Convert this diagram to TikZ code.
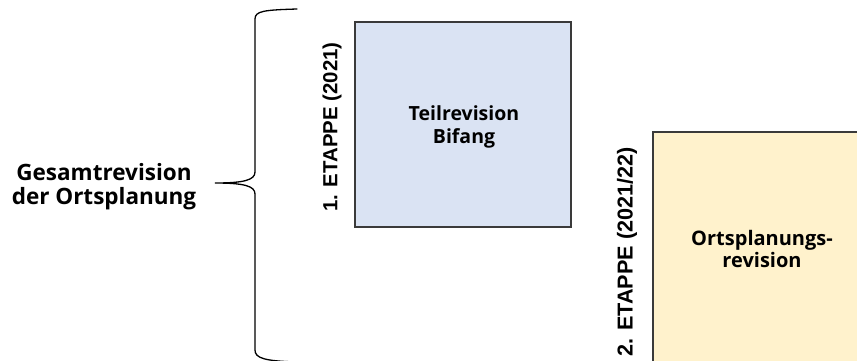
\documentclass[tikz,border=0pt]{standalone}
\usepackage{fontspec}
\setmainfont{Open Sans}
\newfontfamily\arialb{Liberation Sans Bold}
\definecolor{boxblue}{HTML}{DAE3F3}
\definecolor{boxyellow}{HTML}{FFF2CC}
\definecolor{edge}{HTML}{3A3A3A}
\begin{document}
\begin{tikzpicture}[x=1pt,y=-1pt,
  stagebox/.style={draw=edge,line width=1.4pt,inner sep=0pt,anchor=center},
  boxtext/.style={align=center,font=\bfseries,inner sep=0pt},
  etappe/.style={rotate=90,inner sep=0pt}]
\useasboundingbox (0,0) rectangle (857,360);
\clip (0,0) rectangle (857,360);
\node[stagebox,fill=boxblue,minimum width=216pt,minimum height=205pt] (b1) at (463,124.5) {};
\node[stagebox,fill=boxyellow,minimum width=218pt,minimum height=230pt] (b2) at (762,247) {};
\node[boxtext,font=\bfseries\fontsize{19.5}{23}\selectfont] (t1) at (464,127) {Teilrevision\\Bifang};
\node[boxtext,font=\bfseries\fontsize{20}{22}\selectfont] (t2) at (762,249) {Ortsplanungs-\\revision};
\node[boxtext,font=\bfseries\fontsize{22.5}{24}\selectfont] (g) at (104,187) {Gesamtrevision\\der Ortsplanung};
\node[etappe,font=\arialb\fontsize{20.4}{22}\selectfont] (e1) at (332,127) {1. ETAPPE (2021)};
\node[etappe,font=\arialb\fontsize{21.6}{24}\selectfont] (e2) at (627,252) {2. ETAPPE (2021/22)};
\draw[line width=1.3pt,line cap=round]
  (297,9) .. controls (264,10) and (255,11) .. (255,19) -- (255,172)
  .. controls (255,180) and (244,183) .. (215,183)
  .. controls (244,183) and (255,186) .. (255,194) -- (255,350)
  .. controls (255,358) and (264,361) .. (297,362);
\end{tikzpicture}
\end{document}
